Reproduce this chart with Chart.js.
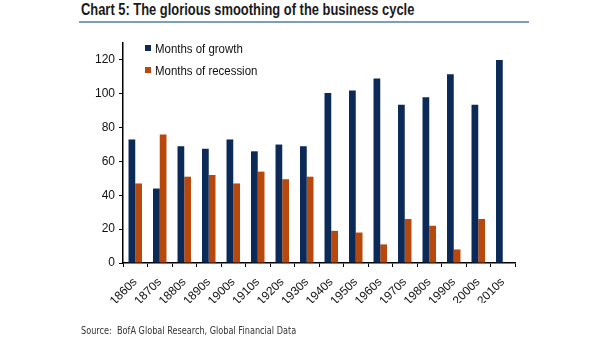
<!DOCTYPE html>
<html lang="en">
  <head>
    <meta charset="UTF-8" />
    <title>Chart 5</title>
    <script src="https://cdn.jsdelivr.net/npm/chart.js@4.4.0/dist/chart.umd.min.js"></script>
    <style>
      body { margin: 0; width: 605px; height: 341px; position: relative; background: #fff; overflow: hidden; }
      .fit { position: absolute; white-space: nowrap; transform-origin: 0 0; }
      #title { left: 81px; top: 1px; font: bold 16px 'Liberation Sans', sans-serif; color: #1a1a1a; }
      #rule { position: absolute; left: 79px; top: 21px; width: 450px; height: 2px; background: #7f9cc0; }
      #source { left: 81px; top: 324px; font: 11px 'DejaVu Sans', sans-serif; color: #333; }
      #legend { position: absolute; left: 145px; top: 40px; font: 13px 'Liberation Sans', sans-serif; color: #111; }
      #legend div { position: relative; height: 22px; line-height: 18px; white-space: nowrap; }
      #legend span { display: inline-block; width: 6px; height: 6px; margin-right: 4px; vertical-align: 2px; }
      #legend em { font-style: normal; display: inline-block; transform-origin: 0 50%; }
      canvas { position: absolute; left: 0; top: 0; }
    </style>
  </head>
  <body>
    <div id="title" class="fit">Chart 5: The glorious smoothing of the business cycle</div>
    <div id="rule"></div>
    <canvas id="myChart" width="605" height="341"></canvas>
    <div id="legend"></div>
    <div id="source" class="fit">Source:&nbsp; BofA Global Research, Global Financial Data</div>

    <script>
      const decades = ['1860s', '1870s', '1880s', '1890s', '1900s', '1910s', '1920s', '1930s',
                       '1940s', '1950s', '1960s', '1970s', '1980s', '1990s', '2000s', '2010s'];
      const growth = [73, 44, 69, 67.5, 73, 66, 70, 69, 100.5, 102, 109, 93.5, 98, 111.5, 93.5, 120];
      const recession = [47, 76, 51, 52, 47, 54, 49.5, 51, 19, 18, 11, 26, 22, 8, 26, 0];
      const seriesNames = ['Months of growth', 'Months of recession'];
      const colors = ['#0b2a58', '#b8480b'];

      const font = "'Liberation Sans', sans-serif";

      // squeeze text horizontally, the original uses a condensed face
      function squeeze(el, width) {
        el.style.transform = 'scaleX(' + (width / el.offsetWidth) + ')';
      }

      // simple html legend, sits inside the plot area
      const legend = document.getElementById('legend');
      seriesNames.forEach((name, i) => {
        const row = document.createElement('div');
        row.innerHTML = '<span style="background:' + colors[i] + '"></span><em>' + name + '</em>';
        legend.appendChild(row);
      });
      const ems = legend.querySelectorAll('em');
      const k = 88 / ems[0].offsetWidth;
      ems.forEach(e => { e.style.transform = 'scaleX(' + k + ')'; });

      squeeze(document.getElementById('title'), 333);
      squeeze(document.getElementById('source'), 215);

      const ctx = document.getElementById('myChart').getContext('2d');
      new Chart(ctx, {
        type: 'bar',
        data: {
          labels: decades,
          datasets: [
            { label: seriesNames[0], data: growth, backgroundColor: colors[0] },
            { label: seriesNames[1], data: recession, backgroundColor: colors[1] }
          ]
        },
        options: {
          responsive: false,
          animation: false,
          categoryPercentage: 0.55,
          barPercentage: 1,
          layout: { padding: { left: 83, right: 90, top: 43, bottom: 38 } },
          plugins: { legend: { display: false }, tooltip: { enabled: false } },
          scales: {
            x: {
              afterFit: s => { s.height = 40; },
              grid: { display: true, drawOnChartArea: false, offset: true, tickLength: 4, color: '#000', lineWidth: 1 },
              border: { color: '#000', width: 1.5 },
              ticks: { autoSkip: false, color: '#111', font: { family: font, size: 12 }, minRotation: 45, maxRotation: 45, padding: 8 }
            },
            y: {
              min: 0,
              max: 130,
              afterFit: s => { s.width = 40; },
              grid: { display: true, drawOnChartArea: false, tickLength: 4, color: '#000', lineWidth: 1 },
              border: { color: '#000', width: 1.5 },
              ticks: { stepSize: 20, includeBounds: false, color: '#111', font: { family: font, size: 12 }, padding: 4 }
            }
          }
        }
      });
    </script>
  </body>
</html>
